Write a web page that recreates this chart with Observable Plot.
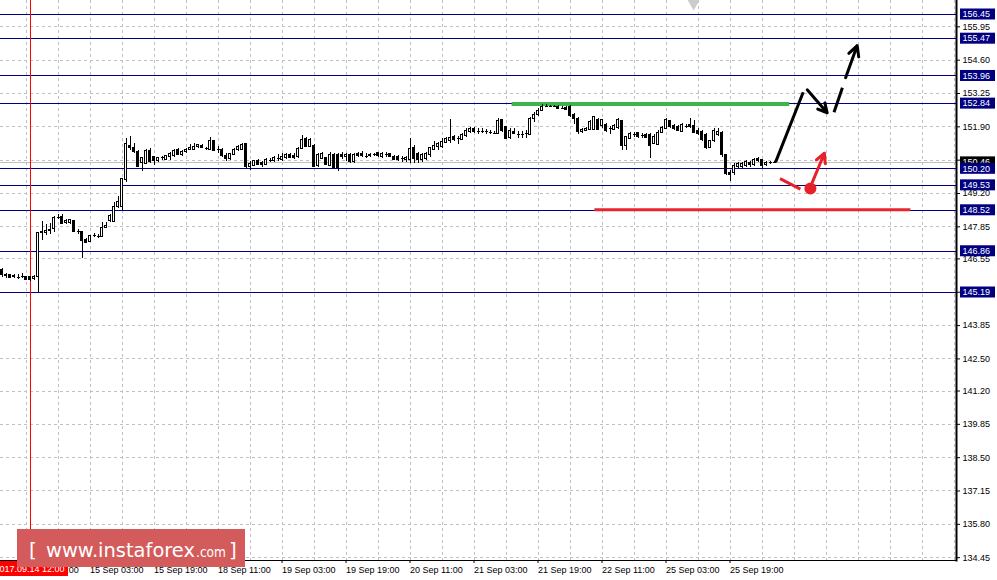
<!DOCTYPE html>
<html>
<head>
<meta charset="utf-8">
<script src="https://cdn.jsdelivr.net/npm/d3@7"></script>
<script src="https://cdn.jsdelivr.net/npm/@observablehq/plot@0.6"></script>
<style>
  html, body { margin: 0; padding: 0; background: #ffffff; }
  #chart { position: relative; width: 997px; height: 580px; overflow: hidden; }
  #chart svg { display: block; }
</style>
</head>
<body>
<div id="chart"></div>
<script>
// ---- H1 candles (index 0 = 14 Sep 05:00) ----
const open = [
146.12,145.91,145.88,145.85,145.81,145.84,145.81,145.80,145.72,145.81,
147.59,147.59,147.69,147.77,148.24,148.24,148.02,148.02,148.07,147.66,
147.63,147.31,147.23,147.50,147.47,147.45,147.82,148.07,148.04,148.65,
148.65,149.73,151.14,151.06,150.90,150.44,150.40,150.94,150.67,150.52,
150.65,150.57,150.66,150.71,150.97,150.74,150.89,150.98,150.97,151.08,
151.12,151.01,150.97,151.31,150.97,150.98,150.73,150.58,150.77,150.97,
150.97,151.21,150.29,150.33,150.51,150.43,150.35,150.53,150.51,150.63,
150.57,150.62,150.75,150.70,150.67,151.01,151.42,151.10,151.14,150.31,
150.61,150.63,150.33,150.74,150.77,150.77,150.67,150.74,150.47,150.81,
150.81,150.70,150.70,150.78,150.82,150.67,150.77,150.79,150.67,150.66,
150.61,150.54,150.54,151.04,150.81,150.54,150.61,150.74,150.98,151.08,
151.08,151.25,151.32,151.47,151.42,151.38,151.52,151.68,151.82,151.71,
151.71,151.71,151.68,151.63,151.62,152.16,151.88,151.44,151.71,151.59,
151.60,151.62,151.58,152.23,152.39,152.56,152.72,152.73,152.73,152.71,
152.66,152.68,152.70,152.36,152.23,151.68,151.74,151.78,151.78,152.16,
151.95,151.98,151.82,151.78,151.84,152.12,151.14,151.42,151.60,151.64,
151.55,151.58,151.58,151.21,151.17,151.66,151.82,152.12,151.95,151.91,
151.71,151.93,151.98,151.95,151.75,151.68,151.55,151.04,151.31,151.58,
151.66,150.74,150.04,150.04,150.27,150.27,150.31,150.44,150.36,150.58,
150.54,150.36,150.44,150.46];
const high = [
146.18,145.97,145.92,145.91,145.93,145.97,145.84,145.83,145.87,147.62,
148.08,147.93,147.97,148.28,148.34,148.34,148.15,148.15,148.11,147.74,
147.66,147.39,147.50,147.58,147.55,148.04,148.04,148.34,148.85,149.07,
149.80,151.42,151.51,151.21,150.94,150.67,150.97,151.04,150.71,150.67,
150.71,150.74,150.85,150.98,151.01,150.93,151.04,151.18,151.21,151.20,
151.18,151.08,151.48,151.35,151.10,151.01,150.81,150.83,151.01,151.14,
151.21,151.24,150.51,150.54,150.57,150.51,150.61,150.61,150.70,150.78,
150.81,150.81,150.81,150.81,151.08,151.55,151.46,151.42,151.17,150.83,
150.87,150.67,150.86,150.81,150.81,150.86,150.83,150.81,150.81,150.87,
150.91,150.81,150.81,150.83,150.87,150.85,150.85,150.83,150.73,150.73,
150.70,150.70,151.44,151.14,150.87,150.83,150.86,151.08,151.31,151.28,
151.42,151.48,152.19,151.55,151.52,151.62,151.82,151.87,151.89,151.82,
151.82,151.78,151.76,151.71,152.23,152.20,151.93,151.82,151.82,151.71,
151.71,151.75,152.28,152.47,152.63,152.79,152.79,152.78,152.78,152.75,
152.73,152.73,152.77,152.43,152.29,151.84,151.86,152.16,152.33,152.23,
152.20,152.02,151.93,151.99,152.23,152.16,151.52,151.66,151.68,151.68,
151.62,151.62,151.62,151.58,151.75,151.90,152.23,152.16,152.01,151.95,
152.02,152.01,152.23,152.16,151.82,151.75,151.62,151.35,151.82,151.82,
151.71,150.77,150.13,150.40,150.47,150.47,150.52,150.49,150.61,150.67,
150.58,150.49,150.49,150.51];
const low = [
145.81,145.77,145.75,145.75,145.72,145.75,145.68,145.65,145.69,145.17,
147.30,147.50,147.53,147.61,148.15,147.93,147.96,147.96,147.61,147.53,
146.58,147.18,147.20,147.42,147.39,147.42,147.79,148.04,148.02,148.61,
148.50,149.63,150.94,150.83,150.24,150.10,150.37,150.43,150.33,150.47,
150.55,150.52,150.55,150.67,150.74,150.71,150.82,150.94,150.94,151.04,
151.01,150.94,150.94,150.91,150.83,150.67,150.48,150.54,150.73,150.91,
150.94,150.20,150.13,150.29,150.32,150.24,150.32,150.47,150.46,150.51,
150.51,150.57,150.61,150.57,150.63,150.97,151.05,151.08,150.27,150.27,
150.57,150.32,150.29,150.18,150.10,150.57,150.51,150.43,150.43,150.67,
150.67,150.62,150.65,150.70,150.67,150.63,150.66,150.65,150.54,150.50,
150.47,150.47,150.40,150.40,150.40,150.47,150.55,150.67,150.94,150.94,
151.04,151.21,151.23,151.32,151.17,151.35,151.48,151.62,151.62,151.58,
151.62,151.58,151.58,151.58,151.58,151.68,151.39,151.39,151.58,151.44,
151.44,151.44,151.55,152.09,152.33,152.52,152.68,152.70,152.70,152.60,
152.60,152.56,152.28,151.98,151.58,151.63,151.71,151.74,151.74,151.74,
151.82,151.68,151.58,151.75,151.79,150.94,150.94,151.39,151.48,151.44,
151.44,151.42,150.63,151.17,151.14,151.62,151.79,151.82,151.76,151.71,
151.66,151.82,151.84,151.62,151.55,151.31,150.98,151.01,151.25,151.52,
150.67,149.93,149.69,149.93,150.23,150.23,150.27,150.27,150.31,150.44,
150.23,150.31,150.36,150.40];
const close = [
145.91,145.85,145.79,145.80,145.81,145.84,145.70,145.70,145.83,147.61,
147.66,147.69,147.74,148.20,148.24,147.97,148.09,148.12,147.63,147.66,
147.26,147.20,147.46,147.50,147.47,147.82,147.88,148.28,148.67,148.85,
149.77,151.21,151.06,150.87,150.27,150.65,150.94,150.47,150.50,150.65,
150.65,150.70,150.78,150.94,150.77,150.90,150.98,151.05,151.10,151.16,
151.04,151.01,151.31,150.94,150.97,150.71,150.59,150.81,150.98,151.08,
151.18,150.27,150.40,150.51,150.36,150.35,150.54,150.53,150.65,150.63,
150.67,150.75,150.65,150.62,151.01,151.38,151.10,151.38,150.29,150.77,
150.81,150.36,150.77,150.24,150.22,150.67,150.77,150.47,150.74,150.71,
150.70,150.70,150.77,150.78,150.73,150.81,150.77,150.67,150.57,150.54,
150.61,150.65,151.01,150.61,150.54,150.77,150.81,151.04,151.14,151.20,
151.28,151.39,151.46,151.38,151.42,151.58,151.75,151.82,151.68,151.71,
151.71,151.71,151.68,151.63,152.12,151.75,151.42,151.75,151.62,151.59,
151.60,151.62,152.23,152.39,152.56,152.72,152.72,152.73,152.73,152.63,
152.66,152.60,152.33,152.23,151.71,151.79,151.82,152.09,152.29,151.78,
152.16,151.75,151.82,151.95,152.16,151.12,151.48,151.62,151.60,151.48,
151.55,151.44,151.14,151.48,151.66,151.84,152.16,151.89,151.82,151.75,
151.98,151.93,151.90,151.66,151.62,151.35,151.04,151.31,151.75,151.71,
150.74,150.00,149.93,150.33,150.39,150.40,150.47,150.36,150.54,150.50,
150.31,150.44,150.44,150.46];

// ---- levels, ticks, labels ----
const levels = [156.45, 155.47, 153.96, 152.84, 150.20, 149.53, 148.52, 146.86, 145.19];
const priceTicks = [155.95, 154.60, 153.25, 151.90, 150.55, 149.20, 147.85, 146.55, 145.20,
                    143.85, 142.50, 141.20, 139.85, 138.50, 137.15, 135.80, 134.45];
const currentPrice = 150.46;
const timeTickIndex = [6, 22, 38, 54, 70, 86, 102, 118, 134, 150, 166, 182];
const timeTickLabels = ["14 Sep 11:00", "15 Sep 03:00", "15 Sep 19:00", "18 Sep 11:00", "19 Sep 03:00",
  "19 Sep 19:00", "20 Sep 11:00", "21 Sep 03:00", "21 Sep 19:00", "22 Sep 11:00", "25 Sep 03:00", "25 Sep 19:00"];
const markerIndex = 7;
const markerLabel = "2017.09.14 12:00";

// ---- analyst drawings (index, price) ----
const resistance = [{i1: 127.4, i2: 196.8, v: 152.82}];
const support = [{i1: 148.1, i2: 227.1, v: 148.54}];
const blackSegments = [ // i1, v1, i2, v2, arrowhead
  [193.4, 150.47, 200.3, 153.30, 0],
  [201.3, 153.40, 206.3, 152.47, 1],
  [208.0, 152.49, 210.1, 153.48, 0],
  [210.9, 153.89, 213.8, 155.19, 1]
];
const redSegments = [
  [194.5, 149.80, 199.6, 149.38, 0],
  [202.6, 149.66, 205.6, 150.83, 1]
];
const redDot = [{i: 202.1, v: 149.40}];
const topMarker = [{i: 172.9, v: 157.017}];

const candles = open.map((o, i) => ({i, open: o, high: high[i], low: low[i], close: close[i]}));
const bodies = candles.filter(d => Math.abs(d.open - d.close) >= 0.01);
const dojis = candles.filter(d => Math.abs(d.open - d.close) < 0.01);
const seg = a => a.map(s => ({x1: s[0], y1: s[1], x2: s[2], y2: s[3], head: s[4]}));
const gridIndex = d3.range(6, 239, 8);

const FONT = "'Liberation Sans', Arial, sans-serif";

const chart = Plot.plot({
  width: 997,
  height: 580,
  marginLeft: 0,
  marginRight: 41,
  marginTop: 0,
  marginBottom: 20,
  style: {fontFamily: FONT, fontSize: "9px", background: "#ffffff", color: "#000"},
  x: {type: "linear", domain: [-0.375, 238.625], axis: null},
  y: {type: "linear", domain: [134.335, 157.017], axis: null},
  marks: [
    Plot.ruleY(priceTicks, {stroke: "#c0c0c0", strokeDasharray: "3,3", shapeRendering: "crispEdges"}),
    Plot.ruleX(gridIndex, {stroke: "#c0c0c0", strokeDasharray: "3,3", shapeRendering: "crispEdges"}),
    Plot.ruleY([currentPrice], {stroke: "#c0c0c0", shapeRendering: "crispEdges"}),
    Plot.ruleY(levels, {stroke: "#000080", shapeRendering: "crispEdges"}),
    Plot.ruleX([markerIndex], {stroke: "#ff0000", shapeRendering: "crispEdges"}),
    Plot.link(resistance, {x1: "i1", x2: "i2", y1: "v", y2: "v", stroke: "#3cb54a", strokeWidth: 4}),
    Plot.link(support, {x1: "i1", x2: "i2", y1: "v", y2: "v", stroke: "#e8252d", strokeWidth: 3}),
    Plot.ruleX(candles, {x: "i", y1: "low", y2: "high", stroke: "#000", shapeRendering: "crispEdges"}),
    Plot.rect(bodies, {x1: d => d.i - 0.25, x2: d => d.i + 0.25, y1: "open", y2: "close",
      fill: d => d.close > d.open ? "#ffffff" : "#000000", stroke: "#000", strokeWidth: 1, shapeRendering: "crispEdges"}),
    Plot.link(dojis, {x1: d => d.i - 0.375, x2: d => d.i + 0.375, y1: "open", y2: "open", stroke: "#000", shapeRendering: "crispEdges"}),
    Plot.link(seg(blackSegments).filter(d => !d.head), {x1: "x1", y1: "y1", x2: "x2", y2: "y2", stroke: "#000", strokeWidth: 3}),
    Plot.arrow(seg(blackSegments).filter(d => d.head), {x1: "x1", y1: "y1", x2: "x2", y2: "y2", stroke: "#000", strokeWidth: 3, headLength: 8, headAngle: 55}),
    Plot.link(seg(redSegments).filter(d => !d.head), {x1: "x1", y1: "y1", x2: "x2", y2: "y2", stroke: "#e8202a", strokeWidth: 3}),
    Plot.arrow(seg(redSegments).filter(d => d.head), {x1: "x1", y1: "y1", x2: "x2", y2: "y2", stroke: "#e8202a", strokeWidth: 3, headLength: 8, headAngle: 55}),
    Plot.dot(redDot, {x: "i", y: "v", r: 6, fill: "#e8202a", stroke: null}),
    Plot.dot(topMarker, {x: "i", y: "v", r: 6, symbol: "diamond", fill: "#cccccc", stroke: null}),
    Plot.axisY(priceTicks, {anchor: "right", tickSize: 3, tickPadding: 3, tickFormat: d => d.toFixed(2), fontSize: 9}),
    Plot.axisX(timeTickIndex, {anchor: "bottom", tickSize: 3, tickPadding: 3, textAnchor: "start", dx: 0,
      tickFormat: d => timeTickLabels[timeTickIndex.indexOf(d)], fontSize: 9}),
    Plot.frame({anchor: "bottom", stroke: "#000"}),
    Plot.frame({anchor: "right", stroke: "#000", strokeWidth: 2})
  ]
});

document.getElementById("chart").appendChild(chart);

// ---- price labels on the right, marker label and logo ----
const svg = d3.select(chart);
const ys = chart.scale("y");
const xs = chart.scale("x");
const g = svg.append("g").attr("font-family", FONT).attr("font-size", 9).attr("text-anchor", "start");

function priceBox(v, fill) {
  const yc = ys.apply(v);
  g.append("rect").attr("x", 960).attr("y", yc - 5.5).attr("width", 35).attr("height", 11).attr("fill", fill);
  g.append("text").attr("x", 962.5).attr("y", yc + 3.3).attr("fill", "#fff").attr("text-anchor", "start").text(v.toFixed(2));
}
priceBox(currentPrice, "#000000");
levels.forEach(v => priceBox(v, "#000080"));

const mx = xs.apply(markerIndex);
g.append("rect").attr("x", mx - 38.5).attr("y", 561).attr("width", 77).attr("height", 15).attr("fill", "#ff0000");
g.append("text").attr("x", mx).attr("y", 572).attr("text-anchor", "middle").attr("fill", "#fff").text(markerLabel);

const logo = svg.append("g").attr("font-family", "'DejaVu Sans', Verdana, sans-serif").attr("fill", "#fff").attr("text-anchor", "start");
logo.append("rect").attr("x", 17).attr("y", 529).attr("width", 228).attr("height", 38).attr("fill", "#d45b5b");
logo.append("text").attr("x", 29).attr("y", 557).attr("font-size", 20).attr("text-anchor", "start").text("[");
logo.append("text").attr("x", 46).attr("y", 557).attr("font-size", 20).attr("text-anchor", "start")
  .attr("textLength", 149).attr("lengthAdjust", "spacingAndGlyphs").text("www.instaforex");
logo.append("text").attr("x", 196).attr("y", 557).attr("font-size", 14).attr("text-anchor", "start")
  .attr("textLength", 30).attr("lengthAdjust", "spacingAndGlyphs").text(".com");
logo.append("text").attr("x", 229).attr("y", 557).attr("font-size", 20).attr("text-anchor", "start").text("]");
</script>
</body>
</html>
